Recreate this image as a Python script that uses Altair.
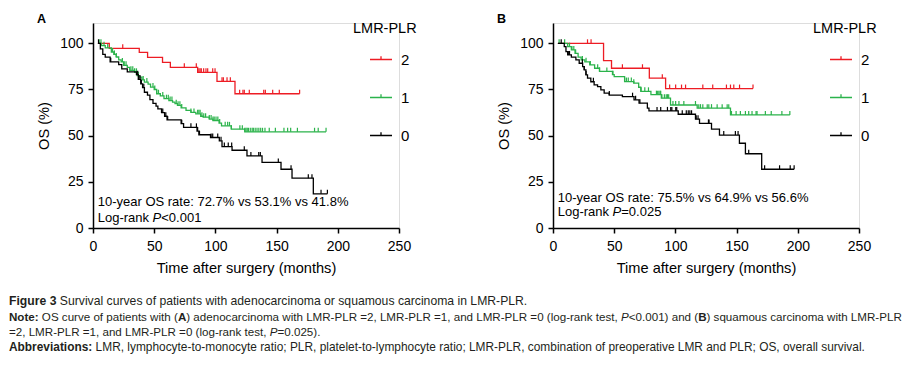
import altair as alt
import pandas as pd

FONT = "Liberation Sans"
RED, GREEN, BLACK = "#ed1c24", "#2bb34b", "#000000"

GROUPS = ["2", "1", "0"]
X_TICKS = [0, 50, 100, 150, 200, 250]
Y_TICKS = [0, 25, 50, 75, 100]
X_TITLE = "Time after surgery (months)"
Y_TITLE = "OS (%)"
LEGEND_TITLE = "LMR-PLR"

# ---------------- Panel A (adenocarcinoma) ----------------
A_T2 = [4, 13.3, 37.8, 44.6, 56.8, 63.2, 85.5, 101.3, 116.0, 168.8]
A_S2 = [100, 97.3, 95.1, 92.4, 89.7, 87.0, 84.3, 79.4, 72.7, 72.7]
A_C2 = [24.3, 74.6, 84.4, 86.5, 87.5, 88.5, 90.4, 92.3, 93.7, 97.8, 99.7, 105.4, 106.5, 109.5,
        112.2, 119.8, 122.5, 123.6, 127.7, 139.5, 140.8, 146.8, 152.2, 168.8]

A_T1 = [4, 7, 10, 15, 17, 19, 21, 23, 25, 28, 30, 34, 36, 38, 40, 42, 45, 47, 50, 52, 55, 58, 62,
        65, 67, 69, 72, 76, 80, 84, 88, 90, 95, 98, 103, 105, 113, 124, 190.4]
A_S1 = [100, 98.7, 97.5, 95.3, 94, 92.6, 91, 89.9, 88.1, 87, 85.4, 84.3, 82.5, 81.7, 80.2, 79,
        77.9, 76.3, 75, 72.7, 71.5, 70, 69, 68.2, 67.3, 66.4, 65, 63.7, 62.6, 61.8, 60.5, 60, 59,
        58.2, 56.8, 55.3, 53.5, 52.1, 52.1]
A_C1 = [5, 6.5, 9, 12, 16, 17.5, 19, 24, 25.5, 27, 31, 32.5, 34, 35.5, 37, 41, 44, 49, 50.5, 52,
        53.5, 57, 60, 61.5, 63, 64.5, 68, 69.5, 71, 72.5, 80, 82.5, 85.5, 86.5, 87.5, 89, 90.5, 92,
        95, 96.5, 98, 99, 100.5, 102, 103.5, 108, 110, 111.5, 113, 120, 122, 124, 125, 126, 127,
        128.5, 130, 131, 132.5, 134, 135.5, 137, 138.5, 140.5, 144, 149, 156, 159, 161.5, 167,
        181, 184, 190.4]

A_T0 = [4, 6, 8, 10, 14, 21, 23.5, 28, 35.5, 37, 39, 40.5, 42, 44.5, 46.5, 49, 51.5, 53, 56, 58.5,
        60.5, 72, 74, 85, 86.5, 96, 103.2, 105.4, 113.6, 125.8, 138.1, 153.6, 162.6, 180, 191.5]
A_S0 = [100, 97, 94, 92.5, 90, 88.5, 86.2, 84.5, 83, 80.5, 78, 76, 73.5, 72, 69.5, 67.5, 66, 64.5,
        62.5, 60.5, 58.5, 56.5, 54.5, 52.5, 50.5, 49, 47.2, 44.1, 42.1, 39, 35.5, 31.8, 27, 18.5,
        18.5]
A_C0 = [4.5, 14.5, 36.5, 37.5, 38.5, 39.5, 41.5, 57, 59.5, 61, 72.5, 80, 84.5, 85.5, 87, 96.5,
        97.8, 101.9, 104.6, 107.3, 110.5, 113.3, 123.6, 129, 135.4, 136.7, 151.4, 161.8, 175.9,
        178.9, 186.3, 191.5]

A_RATE = "10-year OS rate: 72.7% vs 53.1% vs 41.8%"
A_P = ["Log-rank ", "P", "<0.001"]

# ---------------- Panel B (squamous carcinoma) ----------------
B_T2 = [4, 41.3, 47.8, 78.7, 92, 163.4]
B_S2 = [100, 90.6, 86.5, 81.1, 75.5, 75.5]
B_C2 = [28.2, 31.1, 56.7, 73.1, 89.3, 95.3, 100.2, 105, 108.3, 122.4, 130.5, 141.7, 145, 147.7,
        152.4, 163.4]

B_T1 = [4, 12, 15, 18, 20.5, 23, 26, 30, 34, 38, 48.6, 50, 58.5, 66, 70, 71.7, 80, 88.5, 96,
        117.8, 145, 193.5]
B_S1 = [100, 98.2, 96.4, 94.5, 92.5, 91, 90, 88.3, 86.5, 84.8, 83, 82, 79.3, 78.4, 76.2, 74, 72.2,
        70.3, 66.6, 64.9, 61.2, 61.2]
B_C1 = [5, 9.5, 13.5, 15.5, 17, 18.5, 24, 27, 30.5, 36.5, 38, 44, 49, 58.5, 60, 61.5, 64, 66, 72,
        75, 78, 84.5, 85.5, 86.5, 87.5, 88, 89, 91, 92.5, 93.5, 94.5, 98, 100.2, 102.9, 106.9,
        116.4, 119.1, 120.5, 122.4, 126, 127.3, 129.5, 134.1, 138.2, 142.3, 143.6, 145.8, 149.6,
        153.1, 157.2, 159.9, 162.6, 165.9, 166.7, 173.5, 178.3, 187, 193.5]

B_T0 = [4, 9.2, 10.6, 12, 15, 18.7, 21.4, 24.2, 25.5, 26.9, 28.2, 30.9, 33.6, 36.4, 39.1, 41.8,
        45.9, 56.7, 66.2, 70.3, 77.1, 78.4, 102.3, 116.4, 119.7, 129.5, 136, 152.3, 157.2, 170.5,
        197]
B_S0 = [100, 98.2, 95.5, 93.7, 92.5, 91, 89.2, 87.4, 85.6, 82.9, 81.1, 79.2, 77.5, 76.5, 74.8, 73,
        72, 71.1, 69.4, 67.6, 64.9, 63.4, 61.6, 58.9, 56.6, 53.5, 50.3, 45.9, 40.2, 31.8, 31.8]
B_C0 = [6.7, 12.5, 13.5, 24, 25.5, 27, 33, 46, 65, 67.5, 71, 85, 88, 93.5, 96.2, 97.1, 100.3,
        101.1, 105.6, 108.9, 110.5, 111.8, 113.2, 117, 118.5, 127, 127.5, 139.5, 149, 151.2, 159.9,
        172.9, 185.1, 193.8, 197]

B_RATE = "10-year OS rate: 75.5% vs 64.9% vs 56.6%"
B_P = ["Log-rank ", "P", "=0.025"]

# ---------------- Caption ----------------
CAP_LINES = [
    [("Figure 3", "b"), (" Survival curves of patients with adenocarcinoma or squamous carcinoma in LMR-PLR.", "n")],
    [("Note:", "b"), (" OS curve of patients with (", "n"), ("A", "b"),
     (") adenocarcinoma with LMR-PLR =2, LMR-PLR =1, and LMR-PLR =0 (log-rank test, ", "n"),
     ("P", "i"), ("<0.001) and (", "n"), ("B", "b"), (") squamous carcinoma with LMR-PLR", "n")],
    [("=2, LMR-PLR =1, and LMR-PLR =0 (log-rank test, ", "n"), ("P", "i"), ("=0.025).", "n")],
    [("Abbreviations:", "b"),
     (" LMR, lymphocyte-to-monocyte ratio; PLR, platelet-to-lymphocyte ratio; LMR-PLR, combination of preoperative LMR and PLR; OS, overall survival.", "n")],
]
CAP_SIZES = [12.2, 11.6, 11.6, 11.9]

# Arial / Liberation Sans advance widths (per 1000 em) for text layout
W_N = {**{c: w for c, w in zip("abcdefghijklmnopqrstuvwxyz",
                                [556, 556, 500, 556, 556, 278, 556, 556, 222, 222, 500, 222, 833,
                                 556, 556, 556, 556, 333, 500, 278, 556, 500, 722, 500, 500, 500])},
       **{c: w for c, w in zip("ABCDEFGHIJKLMNOPQRSTUVWXYZ",
                                [667, 667, 722, 722, 667, 611, 778, 722, 278, 500, 667, 556, 833,
                                 722, 778, 667, 778, 722, 667, 611, 722, 667, 944, 667, 667, 611])},
       **{d: 556 for d in "0123456789"},
       " ": 278, ",": 278, ".": 278, ";": 278, ":": 278, "-": 333, "(": 333, ")": 333,
       "=": 584, "<": 584, "%": 889}
W_B = {**W_N, "b": 611, "g": 611, "i": 278, "n": 611, "o": 611, "r": 389, "s": 556, "t": 333,
       "u": 611, "v": 556, ":": 333, "A": 722, "B": 722, "N": 722, "F": 611}


def text_width(s, style, size):
    table = W_B if style == "b" else W_N
    return sum(table.get(ch, 556) for ch in s) * size / 1000.0


def surv_at(T, S, c):
    val = S[0]
    for t, s in zip(T, S):
        if t <= c:
            val = s
        else:
            break
    return val


AXIS_COMMON = dict(grid=False, domainColor="black", domainWidth=1.5, tickColor="black",
                   tickWidth=1.5, tickSize=5, labelFont=FONT, labelFontSize=14,
                   labelColor="black", titleFont=FONT, titleFontSize=14.6,
                   titleFontWeight="normal", titleColor="black", labelFlush=False)

PLOT_W, PLOT_H = 306, 205
ONE = pd.DataFrame({"a": [0]})


def label(txt, px, py, size, weight="normal", style="normal", color="black"):
    return (alt.Chart(ONE)
            .mark_text(font=FONT, fontSize=size, fontWeight=weight, fontStyle=style,
                       align="left", baseline="alphabetic", color=color)
            .encode(x=alt.value(px), y=alt.value(py), text=alt.value(txt)))


def caption_layers():
    x_start = -84
    bases = [282, 297.5, 312.5, 328]
    out = []
    for line, yb, size in zip(CAP_LINES, bases, CAP_SIZES):
        xc = x_start
        for txt, st in line:
            lead = len(txt) - len(txt.lstrip(" "))
            xs = xc + text_width(" " * lead, st, size)
            out.append(label(txt.strip(" "), xs, yb, size,
                             weight="bold" if st == "b" else "normal",
                             style="italic" if st == "i" else "normal", color="#231f20"))
            xc += text_width(txt, st, size)
    return out


def panel(letter, curves, rate, ptext, y1, y2, extra=()):
    color = alt.Color(
        "g:N",
        scale=alt.Scale(domain=GROUPS, range=[RED, GREEN, BLACK]),
        legend=alt.Legend(title=LEGEND_TITLE, orient="none", legendX=260, legendY=-1,
                          symbolType="M-1,0H1M0,0V-0.3", symbolSize=484, symbolStrokeWidth=1.3,
                          symbolOffset=16, labelOffset=8, labelFont=FONT, labelFontSize=15,
                          labelColor="black", titleFont=FONT, titleFontSize=14.5,
                          titleFontWeight="normal", titleColor="black", titlePadding=11,
                          rowPadding=18, padding=0, symbolFillColor="transparent"),
    )
    x = alt.X("t:Q", scale=alt.Scale(domain=[0, 250], nice=False),
              axis=alt.Axis(values=X_TICKS, title=X_TITLE, labelPadding=6, titlePadding=7,
                            **AXIS_COMMON))
    y = alt.Y("s:Q", scale=alt.Scale(domain=[0, 111], nice=False),
              axis=alt.Axis(values=Y_TICKS, title=Y_TITLE, labelPadding=5, titlePadding=8,
                            **AXIS_COMMON))
    layers = []
    for g in GROUPS:
        T, S, C = curves[g]
        df = pd.DataFrame({"t": T, "s": S, "g": g})
        layers.append(alt.Chart(df).mark_line(interpolate="step-after", strokeWidth=1.3)
                      .encode(x=x, y=y, color=color))
        cdf = pd.DataFrame({"t": C, "s": [surv_at(T, S, c) for c in C], "g": g})
        layers.append(alt.Chart(cdf).mark_point(shape="M0,0V-1", size=64, filled=False,
                                                strokeWidth=1.2, opacity=1)
                      .encode(x=x, y=y, color=color))
    layers.append(label(letter, -56, 0, 12.5, weight="bold"))
    layers.append(label(rate, 4.7, y1, 13))
    x0 = 4.7
    for part, st in zip(ptext, ["n", "i", "n"]):
        layers.append(label(part.strip(" "), x0, y2, 13,
                            style="italic" if st == "i" else "normal"))
        x0 += text_width(part, st, 13)
    layers.extend(extra)
    return alt.layer(*layers).properties(width=PLOT_W, height=PLOT_H)


pA = panel("A", {"2": (A_T2, A_S2, A_C2), "1": (A_T1, A_S1, A_C1), "0": (A_T0, A_S0, A_C0)},
           A_RATE, A_P, 182.5, 199, extra=caption_layers())
pB = panel("B", {"2": (B_T2, B_S2, B_C2), "1": (B_T1, B_S1, B_C1), "0": (B_T0, B_S0, B_C0)},
           B_RATE, B_P, 178.5, 193)

chart = (alt.hconcat(pA, pB, spacing=154, bounds="flush")
         .resolve_scale(color="independent")
         .properties(padding={"left": 0, "top": 4, "right": 0, "bottom": 0})
         .configure_view(stroke=None)
         .configure(font=FONT))

chart.save("out.html", embed_options={"renderer": "svg", "actions": False})
